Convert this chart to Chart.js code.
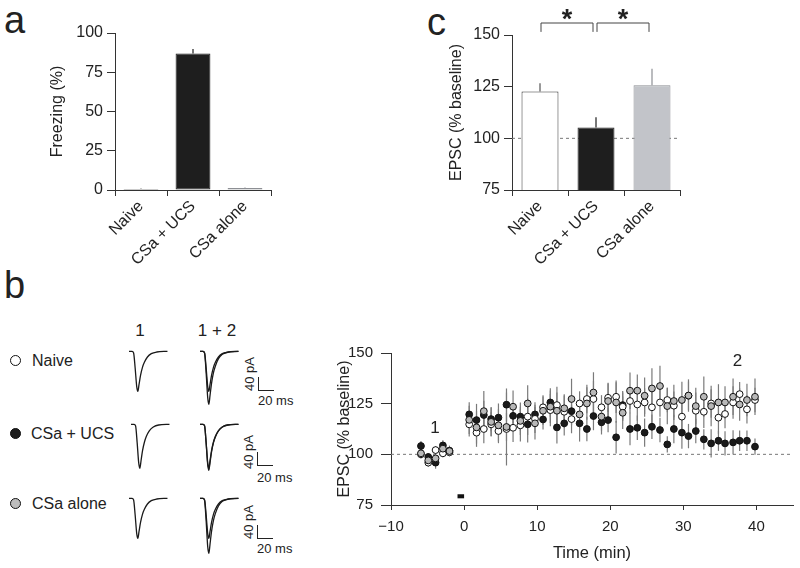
<!DOCTYPE html>
<html>
<head>
<meta charset="utf-8">
<script src="https://cdn.jsdelivr.net/npm/chart.js@4.4.1/dist/chart.umd.min.js"></script>
<style>
body { margin: 0; background: #fff; }
#fig { position: relative; width: 800px; height: 568px; overflow: hidden; font-family: 'Liberation Sans', Arial, sans-serif; color: #222; }
#fig canvas { position: absolute; }
.txt { position: absolute; white-space: nowrap; line-height: 1; }
.panel { font-size: 38px; }
.mid { transform: translate(-50%, -50%); }
.lab { font-size: 16px; transform: translateY(-50%); }
.dot { position: absolute; width: 11px; height: 11px; border: 1px solid #111; border-radius: 50%; box-sizing: border-box; }
.sbar { position: absolute; width: 15px; height: 13px; border-left: 1px solid #222; border-bottom: 1px solid #222; }
.pa { font-size: 13px; transform: translate(-50%, -50%) rotate(-90deg); }
.ms { font-size: 13px; transform: translateY(-50%); }
</style>
</head>
<body>
<div id="fig">
  <div class="txt panel" style="left:4px; top:1px;">a</div>
  <div class="txt panel" style="left:427px; top:3px;">c</div>
  <div class="txt panel" style="left:4px; top:266px;">b</div>

  <canvas id="freezeChart" width="250" height="285" style="left:30px; top:0px;"></canvas>
  <canvas id="epscBarChart" width="280" height="285" style="left:420px; top:0px;"></canvas>
  <canvas id="timeChart" width="480" height="238" style="left:320px; top:330px;"></canvas>

  <div class="txt mid" style="left:140px; top:330px; font-size:17px;">1</div>
  <div class="txt mid" style="left:217px; top:330px; font-size:17px;">1 + 2</div>

  <div class="dot" style="left:10px; top:355px; background:#fff;"></div>
  <div class="txt lab" style="left:32px; top:361px;">Naive</div>
  <div class="dot" style="left:10px; top:428px; background:#1e1e1e;"></div>
  <div class="txt lab" style="left:31px; top:434px;">CSa + UCS</div>
  <div class="dot" style="left:10px; top:498px; background:#bdbdbd;"></div>
  <div class="txt lab" style="left:32px; top:504px;">CSa alone</div>

  <canvas id="trNaive1" width="40" height="62" style="left:129px; top:348px;"></canvas>
  <canvas id="trNaive12" width="40" height="62" style="left:200px; top:348px;"></canvas>
  <canvas id="trUcs1" width="40" height="62" style="left:131px; top:421px;"></canvas>
  <canvas id="trUcs12" width="40" height="62" style="left:200px; top:421px;"></canvas>
  <canvas id="trAlone1" width="40" height="62" style="left:129px; top:495px;"></canvas>
  <canvas id="trAlone12" width="40" height="62" style="left:200px; top:495px;"></canvas>

  <div class="sbar" style="left:258px; top:377px;"></div>
  <div class="txt pa" style="left:249px; top:374px;">40 pA</div>
  <div class="txt ms" style="left:258px; top:400px;">20 ms</div>
  <div class="sbar" style="left:257px; top:452px;"></div>
  <div class="txt pa" style="left:248px; top:452px;">40 pA</div>
  <div class="txt ms" style="left:257px; top:477px;">20 ms</div>
  <div class="sbar" style="left:257px; top:525px;"></div>
  <div class="txt pa" style="left:248px; top:522px;">40 pA</div>
  <div class="txt ms" style="left:257px; top:548px;">20 ms</div>
</div>

<script>
// panel a / c
const groups = ['Naive', 'CSa + UCS', 'CSa alone'];
const freezing = [0.6, 87, 1.2];
const freezingErr = [0.3, 2.8, 0.4];
const epscBars = [122.7, 105.2, 125.7];
const epscBarsErr = [4, 5, 8];
const sigPairs = [[0, 1], [1, 2]];

// panel b, time course (min) and EPSC (% baseline)
const timeMin = [-5.9, -4.9, -3.9, -2.9, -2.0,
  0.7, 1.7, 2.7, 3.7, 4.7, 5.8, 6.7, 7.7, 8.7, 9.7,
  10.8, 11.8, 12.7, 13.7, 14.7, 15.8, 16.8, 17.7, 18.8, 19.7,
  20.8, 21.7, 22.7, 23.7, 24.7, 25.7, 26.8, 27.8, 28.7, 29.8,
  30.7, 31.7, 32.8, 33.8, 34.8, 35.7, 36.8, 37.7, 38.7, 39.8];
const naiveEpsc = [100.0, 95.9, 102.1, 100.5, 101.0,
  114.8, 110.7, 112.5, 114.8, 111.5, 112.5, 113.1, 114.3, 118.6, 117.5,
  123.2, 121.8, 124.3, 121.0, 117.4, 125.1, 127.3, 127.3, 123.2, 127.9,
  128.4, 123.5, 126.3, 124.6, 125.6, 123.2, 125.6, 126.8, 124.0, 118.6,
  128.9, 121.5, 121.0, 125.1, 118.1, 119.9, 125.6, 129.7, 122.2, 126.8];
const naiveErr = [2, 2, 2, 2, 2,
  6, 7, 7, 6, 6, 18, 7, 8, 9, 7,
  6, 8, 9, 8, 7, 6, 7, 9, 6, 7,
  8, 7, 6, 8, 7, 8, 7, 6, 7, 8,
  7, 9, 8, 7, 8, 7, 8, 6, 7, 6];
const ucsEpsc = [104.1, 98.7, 95.9, 104.4, 101.8,
  119.7, 116.9, 119.4, 117.4, 118.1, 124.5, 119.0, 118.6, 114.8, 119.7,
  117.2, 125.6, 113.3, 115.3, 121.3, 115.3, 112.5, 118.9, 115.8, 116.9,
  108.4, 124.3, 112.5, 113.1, 110.7, 113.6, 112.0, 104.9, 112.5, 110.7,
  109.0, 111.5, 107.4, 105.4, 106.7, 105.4, 105.9, 106.7, 106.7, 103.8];
const ucsErr = [2.5, 2, 3, 2.5, 2.5,
  6, 8, 7, 6, 7, 8, 6, 7, 9, 6,
  5, 7, 8, 6, 7, 9, 6, 7, 6, 6,
  8, 7, 8, 6, 7, 6, 6, 4, 7, 8,
  6, 6, 5, 7, 5, 6, 6, 5, 5, 4];
const aloneEpsc = [100.5, 97.0, 98.0, 102.8, 101.6,
  117.0, 113.3, 121.3, 116.0, 114.3, 113.5, 123.5, 116.5, 125.1, 115.3,
  121.5, 123.5, 121.5, 122.7, 127.3, 119.7, 125.1, 130.5, 118.6, 126.3,
  125.6, 120.5, 131.4, 131.4, 128.9, 132.5, 133.7, 123.8, 126.3, 126.8,
  129.0, 123.8, 128.4, 123.8, 125.6, 125.6, 128.4, 124.6, 126.8, 128.4];
const aloneErr = [2, 2, 2, 2, 2,
  7, 8, 10, 7, 8, 7, 8, 7, 9, 8,
  7, 8, 9, 7, 10, 8, 8, 10, 7, 9,
  10, 8, 9, 8, 9, 10, 10, 9, 8, 9,
  8, 9, 10, 10, 9, 8, 9, 8, 8, 9];
const stimMin = [-0.9, 0];
const stimLevel = [78.3, 80.3];
const periodLabels = [{ text: '1', x: -4, y: 113 }, { text: '2', x: 37.4, y: 146 }];

// example EPSC traces (ms, pA)
const traceMs = [0, 4, 6, 8, 10, 11.5, 13, 15, 17.5, 20, 24, 29, 36, 50];
const naiveTrace1 = [0, 0, -5, -50, -105, -120, -100, -72, -48, -33, -17, -7, -2, 0];
const naiveTrace2 = [0, 0, -6, -65, -138, -159, -133, -96, -64, -44, -22, -9, -3, 0];
const ucsTrace1 = [0, 0, -5, -55, -115, -132, -110, -79, -53, -36, -19, -8, -2, 0];
const ucsTrace2 = [0, 0, -5, -57, -120, -138, -115, -83, -55, -38, -20, -8, -2, 0];
const aloneTrace1 = [0, 0, -5, -50, -105, -120, -100, -72, -48, -33, -17, -7, -2, 0];
const aloneTrace2 = [0, 0, -7, -68, -144, -165, -138, -99, -66, -45, -23, -9, -3, 0];

const FONT = "'Liberation Sans', Arial, sans-serif";
Chart.defaults.font.family = FONT;
Chart.defaults.color = '#222';

const axisColor = '#333';
const barFill = ['#ffffff', '#1e1e1e', '#c2c4c9'];
const barEdge = ['#333333', '#1e1e1e', '#8d8f94'];
const errColor = ['#555555', '#1e1e1e', '#8d8f94'];

// vertical error bars on top of each bar (no caps)
const barErrors = {
    id: 'barErrors',
    afterDatasetsDraw(chart) {
        const ctx = chart.ctx;
        const ds = chart.data.datasets[0];
        const y = chart.scales.y;
        chart.getDatasetMeta(0).data.forEach((bar, i) => {
            ctx.save();
            ctx.strokeStyle = errColor[i];
            ctx.lineWidth = 1.2;
            ctx.beginPath();
            ctx.moveTo(bar.x, y.getPixelForValue(ds.data[i]));
            ctx.lineTo(bar.x, y.getPixelForValue(ds.data[i] + ds.errors[i]));
            ctx.stroke();
            ctx.restore();
        });
    }
};

const baselineLine = {
    id: 'baselineLine',
    beforeDatasetsDraw(chart) {
        const {ctx, chartArea, scales} = chart;
        const py = scales.y.getPixelForValue(100);
        ctx.save();
        ctx.strokeStyle = '#777';
        ctx.lineWidth = 1;
        ctx.setLineDash([3, 3]);
        ctx.beginPath();
        ctx.moveTo(chartArea.left, py);
        ctx.lineTo(chartArea.right, py);
        ctx.stroke();
        ctx.restore();
    }
};

const sigBrackets = {
    id: 'sigBrackets',
    afterDraw(chart) {
        const {ctx, scales} = chart;
        const top = scales.y.getPixelForValue(155.8);
        const leg = scales.y.getPixelForValue(151.5);
        ctx.save();
        ctx.strokeStyle = '#444';
        ctx.lineWidth = 1;
        ctx.fillStyle = '#222';
        ctx.font = 'bold 27px ' + FONT;
        ctx.textAlign = 'center';
        ctx.textBaseline = 'alphabetic';
        sigPairs.forEach(([a, b]) => {
            const x1 = scales.x.getPixelForValue(a) + 1;
            const x2 = scales.x.getPixelForValue(b) - 3;
            ctx.beginPath();
            ctx.moveTo(x1, leg);
            ctx.lineTo(x1, top);
            ctx.lineTo(x2, top);
            ctx.lineTo(x2, leg);
            ctx.stroke();
            ctx.fillText('*', (x1 + x2) / 2, top + 5);
        });
        ctx.restore();
    }
};

function barOptions(yMin, yMax, title, titlePad, padTop, padRight, yWidth) {
    return {
        responsive: false,
        animation: false,
        events: [],
        layout: { padding: { top: padTop, right: padRight, left: 0, bottom: 0 } },
        plugins: { legend: { display: false }, tooltip: { enabled: false } },
        scales: {
            x: {
                grid: { drawOnChartArea: false, tickLength: 6, color: axisColor, offset: true },
                border: { color: axisColor },
                ticks: { minRotation: 45, maxRotation: 45, padding: 1, font: { size: 16 }, color: '#222' },
                afterFit: s => { s.height = 95; }
            },
            y: {
                min: yMin,
                max: yMax,
                ticks: { stepSize: 25, padding: 4, font: { size: 16 }, color: '#222' },
                grid: { drawOnChartArea: false, tickLength: 8, color: axisColor },
                border: { color: axisColor },
                title: { display: true, text: title, font: { size: 16 }, color: '#222', padding: { top: titlePad, bottom: 0 } },
                afterFit: s => { s.width = yWidth; }
            }
        }
    };
}

new Chart(document.getElementById('freezeChart'), {
    type: 'bar',
    data: {
        labels: groups,
        datasets: [{
            data: freezing,
            errors: freezingErr,
            backgroundColor: barFill,
            borderColor: barEdge,
            borderWidth: 1,
            borderSkipped: false,
            barPercentage: 0.67,
            categoryPercentage: 1
        }]
    },
    options: barOptions(0, 100, 'Freezing (%)', 18, 33, 9, 85),
    plugins: [barErrors]
});

new Chart(document.getElementById('epscBarChart'), {
    type: 'bar',
    data: {
        labels: groups,
        datasets: [{
            data: epscBars,
            errors: epscBarsErr,
            backgroundColor: barFill,
            borderColor: barEdge,
            borderWidth: 1,
            borderSkipped: false,
            barPercentage: 0.66,
            categoryPercentage: 1
        }]
    },
    options: barOptions(75, 150, 'EPSC (% baseline)', 27, 35, 20, 92),
    plugins: [baselineLine, barErrors, sigBrackets]
});

// time course: error bars under the points, stimulus mark, period labels
const timeExtras = {
    id: 'timeExtras',
    beforeDatasetsDraw(chart) {
        const {ctx, scales} = chart;
        ctx.save();
        ctx.strokeStyle = '#7a7a7a';
        ctx.lineWidth = 1.2;
        chart.data.datasets.forEach((ds, di) => {
            chart.getDatasetMeta(di).data.forEach((pt, i) => {
                const v = ds.data[i].y;
                ctx.beginPath();
                ctx.moveTo(pt.x, scales.y.getPixelForValue(v - ds.errors[i]));
                ctx.lineTo(pt.x, scales.y.getPixelForValue(v + ds.errors[i]));
                ctx.stroke();
            });
        });
        ctx.fillStyle = '#111';
        const x1 = scales.x.getPixelForValue(stimMin[0]);
        const x2 = scales.x.getPixelForValue(stimMin[1]);
        const y1 = scales.y.getPixelForValue(stimLevel[1]);
        const y2 = scales.y.getPixelForValue(stimLevel[0]);
        ctx.fillRect(x1, y1, x2 - x1, y2 - y1);
        ctx.restore();
    },
    afterDatasetsDraw(chart) {
        const {ctx, scales} = chart;
        ctx.save();
        ctx.fillStyle = '#222';
        ctx.font = '17px ' + FONT;
        ctx.textAlign = 'center';
        ctx.textBaseline = 'middle';
        periodLabels.forEach(l => {
            ctx.fillText(l.text, scales.x.getPixelForValue(l.x), scales.y.getPixelForValue(l.y));
        });
        ctx.restore();
    }
};

function series(vals, errs, fill) {
    return {
        data: timeMin.map((t, i) => ({ x: t, y: vals[i] })),
        errors: errs,
        backgroundColor: fill,
        borderColor: '#111',
        borderWidth: 1,
        pointRadius: 3.4
    };
}

new Chart(document.getElementById('timeChart'), {
    type: 'scatter',
    data: {
        datasets: [
            series(aloneEpsc, aloneErr, '#b8b8b8'),
            series(naiveEpsc, naiveErr, '#ffffff'),
            series(ucsEpsc, ucsErr, '#1a1a1a')
        ]
    },
    options: {
        responsive: false,
        animation: false,
        events: [],
        layout: { padding: { top: 23, right: 7, left: 0, bottom: 0 } },
        plugins: { legend: { display: false }, tooltip: { enabled: false } },
        scales: {
            x: {
                type: 'linear',
                min: -10,
                max: 45,
                afterBuildTicks: s => { s.ticks = s.ticks.filter(t => t.value <= 40); },
                ticks: {
                    stepSize: 10,
                    padding: 8,
                    font: { size: 15 },
                    color: '#222',
                    callback: v => v < 0 ? '\u2212' + Math.abs(v) : String(v)
                },
                grid: { drawOnChartArea: false, tickLength: 5, color: axisColor },
                border: { color: axisColor },
                title: { display: true, text: 'Time (min)', font: { size: 16.5 }, color: '#222', padding: { top: 0, bottom: 5 } },
                afterFit: s => { s.height = 63; }
            },
            y: {
                min: 75,
                max: 150,
                ticks: { stepSize: 25, padding: 8, font: { size: 15 }, color: '#222' },
                grid: { drawOnChartArea: false, tickLength: 10, color: axisColor },
                border: { color: axisColor },
                title: { display: true, text: 'EPSC (% baseline)', font: { size: 16 }, color: '#222', padding: { top: 15, bottom: 0 } },
                afterFit: s => { s.width = 71; }
            }
        }
    },
    plugins: [baselineLine, timeExtras]
});

// example traces: period 1 alone, and periods 1 + 2 overlaid
function drawTrace(id, traces) {
    new Chart(document.getElementById(id), {
        type: 'line',
        data: {
            datasets: traces.map(tr => ({
                data: traceMs.map((t, i) => ({ x: t, y: tr[i] })),
                borderColor: '#1a1a1a',
                borderWidth: 1.3,
                pointRadius: 0,
                cubicInterpolationMode: 'monotone',
                clip: false
            }))
        },
        options: {
            responsive: false,
            animation: false,
            events: [],
            plugins: { legend: { display: false }, tooltip: { enabled: false } },
            scales: {
                x: { type: 'linear', display: false, min: 0, max: 52 },
                y: { display: false, min: -176, max: 10 }
            }
        }
    });
}

drawTrace('trNaive1', [naiveTrace1]);
drawTrace('trNaive12', [naiveTrace1, naiveTrace2]);
drawTrace('trUcs1', [ucsTrace1]);
drawTrace('trUcs12', [ucsTrace1, ucsTrace2]);
drawTrace('trAlone1', [aloneTrace1]);
drawTrace('trAlone12', [aloneTrace1, aloneTrace2]);
</script>
</body>
</html>
